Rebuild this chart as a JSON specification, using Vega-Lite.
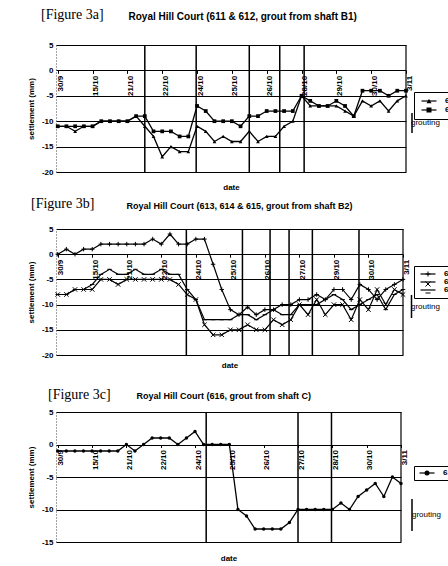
{
  "$schema": "https://vega.github.io/schema/vega-lite/v6.json",
  "background": "white",
  "padding": {"top": 8, "left": 27, "right": 0, "bottom": 0},
  "bounds": "flush",
  "spacing": 57,
  "resolve": {"scale": {"shape": "independent", "stroke": "independent", "strokeDash": "independent", "x": "independent", "y": "independent"}, "legend": {"shape": "independent", "stroke": "independent", "strokeDash": "independent"}},
  "config": {
    "font": "Liberation Sans",
    "view": {"stroke": null},
    "axis": {"labelFont": "Liberation Sans", "labelFontWeight": "bold", "labelFontSize": 8, "labelColor": "black", "titleFont": "Liberation Sans", "titleFontSize": 8, "titleFontWeight": "bold", "titleColor": "black", "tickColor": "black"},
    "axisY": {"grid": true, "gridColor": "black", "gridWidth": 1.2, "ticks": false, "domain": true, "domainDash": [1, 2], "domainColor": "#444", "labelPadding": 3, "titlePadding": 6, "labelExpr": "'' + datum.value"},
    "title": {"font": "Liberation Serif", "fontSize": 14, "fontWeight": "normal", "anchor": "start", "color": "black", "frame": "group"},
    "legend": {"labelFont": "Liberation Sans", "labelFontSize": 8, "labelColor": "black"}
  },
  "datasets": {
    "seriesA": [
      {"i":0,"v":-11,"s":"611"},{"i":1,"v":-11,"s":"611"},{"i":2,"v":-12,"s":"611"},{"i":3,"v":-11,"s":"611"},{"i":4,"v":-11,"s":"611"},{"i":5,"v":-10,"s":"611"},{"i":6,"v":-10,"s":"611"},{"i":7,"v":-10,"s":"611"},{"i":8,"v":-10,"s":"611"},{"i":9,"v":-9,"s":"611"},{"i":10,"v":-11,"s":"611"},{"i":11,"v":-13,"s":"611"},{"i":12,"v":-17,"s":"611"},{"i":13,"v":-15,"s":"611"},{"i":14,"v":-16,"s":"611"},{"i":15,"v":-16,"s":"611"},{"i":16,"v":-11,"s":"611"},{"i":17,"v":-12,"s":"611"},{"i":18,"v":-14,"s":"611"},{"i":19,"v":-13,"s":"611"},{"i":20,"v":-14,"s":"611"},{"i":21,"v":-14,"s":"611"},{"i":22,"v":-12,"s":"611"},{"i":23,"v":-14,"s":"611"},{"i":24,"v":-13,"s":"611"},{"i":25,"v":-13,"s":"611"},{"i":26,"v":-11,"s":"611"},{"i":27,"v":-10,"s":"611"},{"i":28,"v":-5,"s":"611"},{"i":29,"v":-7,"s":"611"},{"i":30,"v":-7,"s":"611"},{"i":31,"v":-7,"s":"611"},{"i":32,"v":-7,"s":"611"},{"i":33,"v":-8,"s":"611"},{"i":34,"v":-9,"s":"611"},{"i":35,"v":-6,"s":"611"},{"i":36,"v":-7,"s":"611"},{"i":37,"v":-6,"s":"611"},{"i":38,"v":-8,"s":"611"},{"i":39,"v":-6,"s":"611"},{"i":40,"v":-5,"s":"611"},
      {"i":0,"v":-11,"s":"612"},{"i":1,"v":-11,"s":"612"},{"i":2,"v":-11,"s":"612"},{"i":3,"v":-11,"s":"612"},{"i":4,"v":-11,"s":"612"},{"i":5,"v":-10,"s":"612"},{"i":6,"v":-10,"s":"612"},{"i":7,"v":-10,"s":"612"},{"i":8,"v":-10,"s":"612"},{"i":9,"v":-9,"s":"612"},{"i":10,"v":-9,"s":"612"},{"i":11,"v":-12,"s":"612"},{"i":12,"v":-12,"s":"612"},{"i":13,"v":-12,"s":"612"},{"i":14,"v":-13,"s":"612"},{"i":15,"v":-13,"s":"612"},{"i":16,"v":-7,"s":"612"},{"i":17,"v":-8,"s":"612"},{"i":18,"v":-10,"s":"612"},{"i":19,"v":-10,"s":"612"},{"i":20,"v":-10,"s":"612"},{"i":21,"v":-11,"s":"612"},{"i":22,"v":-9,"s":"612"},{"i":23,"v":-9,"s":"612"},{"i":24,"v":-8,"s":"612"},{"i":25,"v":-8,"s":"612"},{"i":26,"v":-8,"s":"612"},{"i":27,"v":-8,"s":"612"},{"i":28,"v":-5,"s":"612"},{"i":29,"v":-6,"s":"612"},{"i":30,"v":-7,"s":"612"},{"i":31,"v":-7,"s":"612"},{"i":32,"v":-6,"s":"612"},{"i":33,"v":-7,"s":"612"},{"i":34,"v":-9,"s":"612"},{"i":35,"v":-4,"s":"612"},{"i":36,"v":-4,"s":"612"},{"i":37,"v":-4,"s":"612"},{"i":38,"v":-5,"s":"612"},{"i":39,"v":-4,"s":"612"},{"i":40,"v":-4,"s":"612"}
    ],
    "seriesB": [
      {"i":0,"v":0,"s":"613"},{"i":1,"v":1,"s":"613"},{"i":2,"v":0,"s":"613"},{"i":3,"v":1,"s":"613"},{"i":4,"v":1,"s":"613"},{"i":5,"v":2,"s":"613"},{"i":6,"v":2,"s":"613"},{"i":7,"v":2,"s":"613"},{"i":8,"v":2,"s":"613"},{"i":9,"v":2,"s":"613"},{"i":10,"v":2,"s":"613"},{"i":11,"v":3,"s":"613"},{"i":12,"v":2,"s":"613"},{"i":13,"v":4,"s":"613"},{"i":14,"v":2,"s":"613"},{"i":15,"v":2,"s":"613"},{"i":16,"v":3,"s":"613"},{"i":17,"v":3,"s":"613"},{"i":18,"v":-2,"s":"613"},{"i":19,"v":-7,"s":"613"},{"i":20,"v":-11,"s":"613"},{"i":21,"v":-12,"s":"613"},{"i":22,"v":-10.5,"s":"613"},{"i":23,"v":-12,"s":"613"},{"i":24,"v":-11,"s":"613"},{"i":25,"v":-11,"s":"613"},{"i":26,"v":-10,"s":"613"},{"i":27,"v":-10,"s":"613"},{"i":28,"v":-9,"s":"613"},{"i":29,"v":-9,"s":"613"},{"i":30,"v":-8,"s":"613"},{"i":31,"v":-9,"s":"613"},{"i":32,"v":-7,"s":"613"},{"i":33,"v":-7,"s":"613"},{"i":34,"v":-9,"s":"613"},{"i":35,"v":-6,"s":"613"},{"i":36,"v":-7,"s":"613"},{"i":37,"v":-9,"s":"613"},{"i":38,"v":-7,"s":"613"},{"i":39,"v":-6,"s":"613"},{"i":40,"v":-5,"s":"613"},
      {"i":0,"v":-8,"s":"614"},{"i":1,"v":-8,"s":"614"},{"i":2,"v":-7,"s":"614"},{"i":3,"v":-7,"s":"614"},{"i":4,"v":-7,"s":"614"},{"i":5,"v":-5,"s":"614"},{"i":6,"v":-5,"s":"614"},{"i":7,"v":-6,"s":"614"},{"i":8,"v":-5,"s":"614"},{"i":9,"v":-5,"s":"614"},{"i":10,"v":-5,"s":"614"},{"i":11,"v":-5,"s":"614"},{"i":12,"v":-5,"s":"614"},{"i":13,"v":-5,"s":"614"},{"i":14,"v":-6,"s":"614"},{"i":15,"v":-8,"s":"614"},{"i":16,"v":-9,"s":"614"},{"i":17,"v":-14,"s":"614"},{"i":18,"v":-16,"s":"614"},{"i":19,"v":-16,"s":"614"},{"i":20,"v":-15,"s":"614"},{"i":21,"v":-15,"s":"614"},{"i":22,"v":-14,"s":"614"},{"i":23,"v":-15,"s":"614"},{"i":24,"v":-15,"s":"614"},{"i":25,"v":-13,"s":"614"},{"i":26,"v":-14,"s":"614"},{"i":27,"v":-13,"s":"614"},{"i":28,"v":-10,"s":"614"},{"i":29,"v":-12,"s":"614"},{"i":30,"v":-9,"s":"614"},{"i":31,"v":-12,"s":"614"},{"i":32,"v":-10,"s":"614"},{"i":33,"v":-10,"s":"614"},{"i":34,"v":-13,"s":"614"},{"i":35,"v":-9,"s":"614"},{"i":36,"v":-11,"s":"614"},{"i":37,"v":-7,"s":"614"},{"i":38,"v":-10,"s":"614"},{"i":39,"v":-7,"s":"614"},{"i":40,"v":-8,"s":"614"},
      {"i":0,"v":-8,"s":"615"},{"i":1,"v":-8,"s":"615"},{"i":2,"v":-7,"s":"615"},{"i":3,"v":-7,"s":"615"},{"i":4,"v":-6,"s":"615"},{"i":5,"v":-4,"s":"615"},{"i":6,"v":-3,"s":"615"},{"i":7,"v":-4,"s":"615"},{"i":8,"v":-4,"s":"615"},{"i":9,"v":-3,"s":"615"},{"i":10,"v":-4,"s":"615"},{"i":11,"v":-4,"s":"615"},{"i":12,"v":-3,"s":"615"},{"i":13,"v":-4,"s":"615"},{"i":14,"v":-4,"s":"615"},{"i":15,"v":-7,"s":"615"},{"i":16,"v":-9,"s":"615"},{"i":17,"v":-13,"s":"615"},{"i":18,"v":-13,"s":"615"},{"i":19,"v":-13,"s":"615"},{"i":20,"v":-13,"s":"615"},{"i":21,"v":-12,"s":"615"},{"i":22,"v":-12,"s":"615"},{"i":23,"v":-13,"s":"615"},{"i":24,"v":-12,"s":"615"},{"i":25,"v":-11,"s":"615"},{"i":26,"v":-12,"s":"615"},{"i":27,"v":-12,"s":"615"},{"i":28,"v":-10,"s":"615"},{"i":29,"v":-10,"s":"615"},{"i":30,"v":-10,"s":"615"},{"i":31,"v":-9,"s":"615"},{"i":32,"v":-8,"s":"615"},{"i":33,"v":-9,"s":"615"},{"i":34,"v":-11,"s":"615"},{"i":35,"v":-10,"s":"615"},{"i":36,"v":-9,"s":"615"},{"i":37,"v":-8,"s":"615"},{"i":38,"v":-11,"s":"615"},{"i":39,"v":-8,"s":"615"},{"i":40,"v":-7,"s":"615"}
    ],
    "seriesC": [
      {"i":0,"v":-1,"s":"616"},{"i":1,"v":-1,"s":"616"},{"i":2,"v":-1,"s":"616"},{"i":3,"v":-1,"s":"616"},{"i":4,"v":-1,"s":"616"},{"i":5,"v":-1,"s":"616"},{"i":6,"v":-1,"s":"616"},{"i":7,"v":-1,"s":"616"},{"i":8,"v":0,"s":"616"},{"i":9,"v":-1,"s":"616"},{"i":10,"v":0,"s":"616"},{"i":11,"v":1,"s":"616"},{"i":12,"v":1,"s":"616"},{"i":13,"v":1,"s":"616"},{"i":14,"v":0,"s":"616"},{"i":15,"v":1,"s":"616"},{"i":16,"v":2,"s":"616"},{"i":17,"v":0,"s":"616"},{"i":18,"v":0,"s":"616"},{"i":19,"v":0,"s":"616"},{"i":20,"v":0,"s":"616"},{"i":21,"v":-10,"s":"616"},{"i":22,"v":-11,"s":"616"},{"i":23,"v":-13,"s":"616"},{"i":24,"v":-13,"s":"616"},{"i":25,"v":-13,"s":"616"},{"i":26,"v":-13,"s":"616"},{"i":27,"v":-12,"s":"616"},{"i":28,"v":-10,"s":"616"},{"i":29,"v":-10,"s":"616"},{"i":30,"v":-10,"s":"616"},{"i":31,"v":-10,"s":"616"},{"i":32,"v":-10,"s":"616"},{"i":33,"v":-9,"s":"616"},{"i":34,"v":-10,"s":"616"},{"i":35,"v":-8,"s":"616"},{"i":36,"v":-7,"s":"616"},{"i":37,"v":-6,"s":"616"},{"i":38,"v":-8,"s":"616"},{"i":39,"v":-5,"s":"616"},{"i":40,"v":-6,"s":"616"}
    ],
    "ruleA": [{"i":10.0},{"i":15.9},{"i":22.0},{"i":25.5},{"i":28.3}],
    "ruleB": [{"i":14.9},{"i":21.4},{"i":24.6},{"i":26.8},{"i":29.5},{"i":34.9}],
    "ruleC": [{"i":17.3},{"i":28.0},{"i":31.9}],
    "edge": [{"i":40}]
  },
  "vconcat": [
    {
      "width": 350, "height": 127,
      "title": {"text": "[Figure 3a]", "dx": -15, "dy": 15},
      "resolve": {"axis": {"x": "independent"}},
      "layer": [
        {
          "data": {"name": "ruleA"},
          "mark": {"type": "rule", "strokeWidth": 1.5, "color": "black"},
          "encoding": {
            "x": {"field": "i", "type": "quantitative", "scale": {"domain": [-0.2, 40], "nice": false, "zero": false},
              "axis": {"orient": "top", "title": "Royal Hill Court (611 & 612, grout from shaft B1)", "labels": false, "ticks": false, "domain": false, "grid": false, "titleFontSize": 10, "titleX": 72, "titleAlign": "left", "titlePadding": 24}},
            "strokeDash": {"datum": "grouting", "scale": {"range": [[1, 0]]},
              "legend": {"orient": "none", "legendX": 345, "legendY": 67, "title": null, "symbolType": "M0,-1L0,1", "symbolSize": 400, "symbolStrokeWidth": 1.5, "symbolStrokeColor": "black", "labelOffset": -12, "padding": 0}}
          }
        },
        {
          "data": {"name": "edge"},
          "mark": {"type": "rule", "strokeWidth": 1.2, "color": "black"},
          "encoding": {"x": {"field": "i", "type": "quantitative", "axis": null}}
        },
        {
          "data": {"name": "seriesA"},
          "mark": {"type": "line", "strokeWidth": 1.3, "point": {"filled": true, "size": 14, "color": "black", "strokeWidth": 0}},
          "encoding": {
            "x": {"field": "i", "type": "quantitative", "scale": {"domain": [-0.2, 40], "nice": false, "zero": false},
              "axis": {"orient": "bottom", "offset": -101.6, "values": [0,4,8,12,16,20,24,28,32,36,40], "labelExpr": "['30/9','15/10','21/10','22/10','24/10','25/10','26/10','28/10','29/10','30/10','3/11'][round(datum.value/4)]", "labelAngle": -90, "labelPadding": 2, "labelOffset": 3, "labelFlush": false, "tickSize": 3, "domain": false, "grid": false, "title": "date", "titleY": 113, "titleBaseline": "top"}},
            "y": {"field": "v", "type": "quantitative", "scale": {"domain": [-20, 5], "nice": false, "zero": false},
              "axis": {"values": [5, 0, -5, -10, -15, -20], "title": "settlement (mm)"}},
            "detail": {"field": "s"},
            "stroke": {"field": "s", "type": "nominal", "scale": {"domain": ["611", "612"], "range": ["black", "black"]},
              "legend": {"orient": "none", "legendX": 358, "legendY": 47, "title": null, "strokeColor": "black", "fillColor": "white", "padding": 5, "symbolType": "M-3,0L3,0", "symbolSize": 25, "symbolOffset": 6, "labelOffset": 12, "rowPadding": 1, "labelFontWeight": "bold", "symbolStrokeWidth": 1.2, "symbolStrokeColor": "black"}},
            "shape": {"field": "s", "type": "nominal", "scale": {"range": ["triangle-up", "square"]},
              "legend": {"orient": "none", "legendX": 358, "legendY": 47, "title": null, "padding": 5, "symbolSize": 25, "symbolOffset": 6, "labelOffset": 12, "rowPadding": 1, "labelFontWeight": "bold", "labelExpr": "' '", "symbolStrokeWidth": 0, "symbolFillColor": "black"}}
          }
        }
      ]
    },
    {
      "width": 347, "height": 126,
      "title": {"text": "[Figure 3b]", "dx": -25, "dy": 14},
      "resolve": {"axis": {"x": "independent"}},
      "layer": [
        {
          "data": {"name": "ruleB"},
          "mark": {"type": "rule", "strokeWidth": 1.5, "color": "black"},
          "encoding": {
            "x": {"field": "i", "type": "quantitative", "scale": {"domain": [-0.2, 40], "nice": false, "zero": false},
              "axis": {"orient": "top", "title": "Royal Hill Court (613, 614 & 615, grout from shaft B2)", "labels": false, "ticks": false, "domain": false, "grid": false, "titleFontSize": 9, "titleX": 70, "titleAlign": "left", "titlePadding": 19}},
            "strokeDash": {"datum": "grouting", "scale": {"range": [[1, 0]]},
              "legend": {"orient": "none", "legendX": 343, "legendY": 65, "title": null, "symbolType": "M0,-1L0,1", "symbolSize": 529, "symbolStrokeWidth": 1.5, "symbolStrokeColor": "black", "labelOffset": -13, "padding": 0}}
          }
        },
        {
          "data": {"name": "edge"},
          "mark": {"type": "rule", "strokeWidth": 1.2, "color": "black"},
          "encoding": {"x": {"field": "i", "type": "quantitative", "axis": null}}
        },
        {
          "data": {"name": "seriesB"},
          "mark": {"type": "line", "strokeWidth": 1.2, "point": {"filled": false, "size": 20, "color": "black", "strokeWidth": 1}},
          "encoding": {
            "x": {"field": "i", "type": "quantitative", "scale": {"domain": [-0.2, 40], "nice": false, "zero": false},
              "axis": {"orient": "bottom", "offset": -100.8, "values": [0,4,8,12,16,20,24,28,32,36,40], "labelExpr": "['30/9','15/10','21/10','22/10','24/10','25/10','26/10','27/10','29/10','30/10','3/11'][round(datum.value/4)]", "labelAngle": -90, "labelPadding": 2, "labelOffset": 3, "labelFlush": false, "tickSize": 3, "domain": false, "grid": false, "title": "date", "titleY": 107, "titleBaseline": "top"}},
            "y": {"field": "v", "type": "quantitative", "scale": {"domain": [-20, 5], "nice": false, "zero": false},
              "axis": {"values": [5, 0, -5, -10, -15, -20], "title": "settlement (mm)"}},
            "detail": {"field": "s"},
            "stroke": {"field": "s", "type": "nominal", "scale": {"domain": ["613", "614", "615"], "range": ["black", "black", "black"]},
              "legend": {"orient": "none", "legendX": 358, "legendY": 37, "title": null, "strokeColor": "black", "fillColor": "white", "padding": 4, "symbolType": "M-3,0L3,0", "symbolSize": 25, "symbolOffset": 6, "labelOffset": 12, "rowPadding": 0, "labelFontWeight": "bold", "symbolStrokeWidth": 1.2, "symbolStrokeColor": "black"}},
            "shape": {"field": "s", "type": "nominal", "scale": {"range": ["M-1,0L1,0M0,-1L0,1", "M-1,-1L1,1M-1,1L1,-1", "M-1,0L1,0"]},
              "legend": {"orient": "none", "legendX": 358, "legendY": 37, "title": null, "padding": 4, "symbolSize": 25, "symbolOffset": 6, "labelOffset": 12, "rowPadding": 0, "labelFontWeight": "bold", "labelExpr": "' '", "symbolStrokeWidth": 1, "symbolStrokeColor": "black", "symbolFillColor": "transparent"}}
          }
        }
      ]
    },
    {
      "width": 345, "height": 130,
      "title": {"text": "[Figure 3c]", "dx": -8, "dy": 15},
      "resolve": {"axis": {"x": "independent"}},
      "layer": [
        {
          "data": {"name": "ruleC"},
          "mark": {"type": "rule", "strokeWidth": 1.5, "color": "black"},
          "encoding": {
            "x": {"field": "i", "type": "quantitative", "scale": {"domain": [-0.2, 40], "nice": false, "zero": false},
              "axis": {"orient": "top", "title": "Royal Hill Court (616, grout from shaft C)", "labels": false, "ticks": false, "domain": false, "grid": false, "titleFontSize": 9, "titleX": 80, "titleAlign": "left", "titlePadding": 12}},
            "strokeDash": {"datum": "grouting", "scale": {"range": [[1, 0]]},
              "legend": {"orient": "none", "legendX": 339, "legendY": 86, "title": null, "symbolType": "M0,-1L0,1", "symbolSize": 1024, "symbolStrokeWidth": 1.5, "symbolStrokeColor": "black", "labelOffset": -17, "padding": 0}}
          }
        },
        {
          "data": {"name": "edge"},
          "mark": {"type": "rule", "strokeWidth": 1.2, "color": "black"},
          "encoding": {"x": {"field": "i", "type": "quantitative", "axis": null}}
        },
        {
          "data": {"name": "seriesC"},
          "mark": {"type": "line", "strokeWidth": 1.3, "point": {"filled": true, "size": 12, "color": "black", "strokeWidth": 0}},
          "encoding": {
            "x": {"field": "i", "type": "quantitative", "scale": {"domain": [-0.2, 40], "nice": false, "zero": false},
              "axis": {"orient": "bottom", "offset": -97.5, "values": [0,4,8,12,16,20,24,28,32,36,40], "labelExpr": "['30/9','15/10','21/10','22/10','24/10','25/10','26/10','27/10','28/10','30/10','3/11'][round(datum.value/4)]", "labelAngle": -90, "labelPadding": 2, "labelOffset": 3, "labelFlush": false, "tickSize": 3, "domain": false, "grid": false, "title": "date", "titleY": 110, "titleBaseline": "top"}},
            "y": {"field": "v", "type": "quantitative", "scale": {"domain": [-15, 5], "nice": false, "zero": false},
              "axis": {"values": [5, 0, -5, -10, -15], "title": "settlement (mm)"}},
            "detail": {"field": "s"},
            "stroke": {"field": "s", "type": "nominal", "scale": {"domain": ["616"], "range": ["black"]},
              "legend": {"orient": "none", "legendX": 358, "legendY": 54, "title": null, "strokeColor": "black", "fillColor": "white", "padding": 3, "symbolType": "M-3,0L3,0", "symbolSize": 25, "symbolOffset": 6, "labelOffset": 12, "labelFontWeight": "bold", "symbolStrokeWidth": 1.2, "symbolStrokeColor": "black"}},
            "shape": {"field": "s", "type": "nominal", "scale": {"range": ["circle"]},
              "legend": {"orient": "none", "legendX": 358, "legendY": 54, "title": null, "padding": 3, "symbolSize": 25, "symbolOffset": 6, "labelOffset": 12, "labelFontWeight": "bold", "labelExpr": "' '", "symbolStrokeWidth": 0, "symbolFillColor": "black"}}
          }
        }
      ]
    }
  ]
}
